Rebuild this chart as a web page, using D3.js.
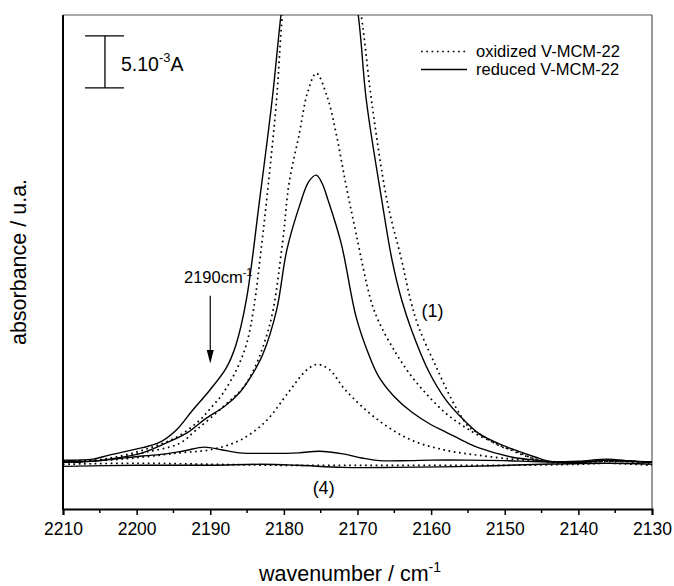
<!DOCTYPE html>
<html>
<head>
<meta charset="utf-8">
<script src="https://cdn.jsdelivr.net/npm/d3@7"></script>
<style>
  body { margin: 0; background: #fff; }
  text { font-family: "Liberation Sans", Arial, sans-serif; fill: #000; }
</style>
</head>
<body>
<svg id="chart" width="674" height="586"></svg>
<script>
// x ticks (cm-1)
const majorTicks = [2210, 2200, 2190, 2180, 2170, 2160, 2150, 2140, 2130];
const minorTicks = [2205, 2195, 2185, 2175, 2165, 2155, 2145, 2135];

// spectra, [wavenumber, absorbance in 1e-3 A]
const oxidized1 = [[2210,0.0],[2208,0.0],[2203.6,0.4],[2199.2,1.15],[2194.6,2.4],[2191.5,4.0],[2189.7,5.4],[2188.3,6.6],[2186.5,8.8],[2185.1,11.3],[2184.1,14.8],[2183.1,20.4],[2182,27.5],[2181,34.8],[2180.2,43],[2178.2,56],[2175.4,63],[2172.6,56],[2169.5,43],[2168.1,34.8],[2166,25.2],[2164,19.4],[2162.8,15.6],[2161.7,13.0],[2159.4,9.3],[2157.2,6.0],[2155.9,4.4],[2154.9,3.4],[2153.6,2.8],[2150.5,1.5],[2149,1.2],[2145.9,0.3],[2144,0],[2140,-0.1],[2136,0.1],[2130,-0.1]];
const oxidized2 = [[2210,0.1],[2208,0.1],[2203.6,0.3],[2199.2,0.9],[2194.2,1.8],[2191.9,3.1],[2188.3,5.3],[2185.1,7.6],[2182,13.0],[2180.2,21.0],[2179.3,26.8],[2177.9,31.6],[2176.8,35.5],[2175.6,37.4],[2174.1,35.1],[2172.9,31.6],[2171.6,26.8],[2170.2,22.0],[2168.2,15.6],[2167.1,13.5],[2164.8,10.5],[2162.6,8.2],[2160.3,6.3],[2158,4.7],[2155.9,3.6],[2153.6,2.6],[2149.1,1.15],[2146.8,0.5],[2144.5,0.1],[2143,0],[2136,0.1],[2130,0]];
const oxidized3 = [[2210,0.1],[2204,0.2],[2199,0.5],[2194.2,0.9],[2190,1.2],[2186,2.1],[2182.5,3.9],[2179.3,6.8],[2177,8.8],[2175.5,9.4],[2173.8,8.9],[2171.6,6.9],[2167.1,4.0],[2162.6,2.1],[2158,1.15],[2153.6,0.67],[2149,0.3],[2145,0.1],[2140,0],[2136,0.1],[2130,0]];
const oxidized4 = [[2210,-0.2],[2200,-0.1],[2190,-0.2],[2180,-0.3],[2170,-0.3],[2160,-0.3],[2150,-0.3],[2140,-0.2],[2136,-0.1],[2130,-0.3]];

const reduced1 = [[2210,0.2],[2208,0.2],[2205.9,0.3],[2203.6,0.7],[2199.2,1.4],[2196.9,1.9],[2194.6,3.1],[2192.4,5.0],[2190.1,6.9],[2187.8,9.1],[2186.5,11.3],[2185.1,15.6],[2183.3,25.2],[2181.6,34.8],[2180.4,43],[2178.4,55],[2175.5,62],[2172.6,55],[2169.9,43],[2168.8,34.8],[2166.7,25.2],[2165.3,19.4],[2164,15.6],[2162.6,12.6],[2160.3,8.7],[2158,6.0],[2155.9,4.3],[2153.6,2.8],[2151.5,2.0],[2149.1,1.3],[2145.9,0.5],[2144,0.1],[2140,0],[2136,0.2],[2133,0.1],[2130,0]];
const reduced2 = [[2210,0.0],[2208,0.0],[2203.6,0.3],[2199.2,0.9],[2195.5,2.0],[2193,2.9],[2190.8,4.1],[2188,5.4],[2186,6.7],[2184.5,8.2],[2182.9,10.3],[2181,14.6],[2179.6,20.4],[2177.9,24.6],[2176.6,27.0],[2175.6,27.6],[2174.8,26.8],[2174,25.2],[2172.2,21.0],[2170.2,14.0],[2168.5,10.4],[2167.1,8.2],[2165,6.3],[2162.6,4.8],[2160,3.6],[2158,2.9],[2155.5,2.0],[2153.6,1.4],[2149.1,0.5],[2145.9,0.2],[2144,0.05],[2140,0],[2136,0.2],[2130,0]];
const reduced3 = [[2210,0.1],[2206,0.1],[2199.2,0.6],[2196,0.8],[2193.5,1.1],[2190.8,1.45],[2188.5,1.2],[2186,0.9],[2182,0.85],[2178,0.9],[2175.2,1.05],[2172,0.8],[2169.4,0.4],[2167,0.15],[2163,0.15],[2160,0.2],[2155,0.2],[2150,0.15],[2145,0.05],[2140,0.1],[2136,0.3],[2133,0.1],[2130,0]];
const reduced4 = [[2210,-0.4],[2200,-0.3],[2190,-0.3],[2183,-0.2],[2178,-0.3],[2172,-0.5],[2165,-0.5],[2155,-0.4],[2145,-0.2],[2136,-0.1],[2130,-0.2]];

const svg = d3.select("#chart");
const margin = { top: 15, right: 22, bottom: 77, left: 63 };
const width = +svg.attr("width");
const height = +svg.attr("height");
const plotW = width - margin.left - margin.right;
const plotH = height - margin.top - margin.bottom;

const x = d3.scaleLinear().domain([2210, 2130]).range([margin.left, margin.left + plotW]);
const y = d3.scaleLinear().domain([-4.5, 43]).range([margin.top + plotH, margin.top]);

svg.append("clipPath").attr("id", "clip")
  .append("rect")
  .attr("x", margin.left).attr("y", margin.top)
  .attr("width", plotW).attr("height", plotH);

// frame: top and right in gray
svg.append("line")
  .attr("x1", margin.left).attr("x2", margin.left + plotW)
  .attr("y1", margin.top).attr("y2", margin.top)
  .attr("stroke", "#555").attr("stroke-width", 1.2);
svg.append("line")
  .attr("x1", margin.left + plotW).attr("x2", margin.left + plotW)
  .attr("y1", margin.top).attr("y2", margin.top + plotH)
  .attr("stroke", "#555").attr("stroke-width", 1.2);

const line = d3.line()
  .x(d => x(d[0]))
  .y(d => y(d[1]))
  .curve(d3.curveCatmullRom.alpha(0.5));

const curves = svg.append("g").attr("clip-path", "url(#clip)");

[oxidized1, oxidized2, oxidized3, oxidized4].forEach(s => {
  curves.append("path")
    .datum(s)
    .attr("d", line)
    .attr("fill", "none")
    .attr("stroke", "#000")
    .attr("stroke-width", 1.7)
    .attr("stroke-dasharray", "1.7,3.6");
});
[reduced1, reduced2, reduced3, reduced4].forEach(s => {
  curves.append("path")
    .datum(s)
    .attr("d", line)
    .attr("fill", "none")
    .attr("stroke", "#000")
    .attr("stroke-width", 1.4);
});

// bottom axis
const xAxis = d3.axisBottom(x).tickValues(majorTicks).tickSize(6).tickFormat(d3.format("d"));
const gx = svg.append("g")
  .attr("transform", "translate(0," + (margin.top + plotH) + ")")
  .call(xAxis);
gx.select(".domain").attr("stroke-width", 2);
gx.selectAll(".tick line").attr("stroke-width", 1.5);
gx.selectAll(".tick text")
  .attr("dy", "0.95em")
  .style("font-size", "17.5px")
  .style("font-family", "Liberation Sans, Arial, sans-serif");

gx.selectAll(".minor").data(minorTicks).enter()
  .append("line")
  .attr("class", "minor")
  .attr("x1", d => x(d)).attr("x2", d => x(d))
  .attr("y1", 0).attr("y2", 4)
  .attr("stroke", "#000").attr("stroke-width", 1.5);

// left axis line only
svg.append("line")
  .attr("x1", margin.left).attr("x2", margin.left)
  .attr("y1", margin.top).attr("y2", margin.top + plotH + 1)
  .attr("stroke", "#000").attr("stroke-width", 2);

// axis titles
const xt = svg.append("text")
  .attr("x", 350).attr("y", 581)
  .attr("text-anchor", "middle")
  .style("font-size", "21.5px");
xt.append("tspan").text("wavenumber / cm");
xt.append("tspan").attr("dy", -9).style("font-size", "14px").text("-1");

svg.append("text")
  .attr("transform", "translate(26," + (margin.top + 247) + ") rotate(-90)")
  .attr("text-anchor", "middle")
  .style("font-size", "21.5px")
  .text("absorbance / u.a.");

// scale bar 5.10-3 A
const barX = x(2204.3);
const barTop = y(41), barBot = y(36);
svg.append("line").attr("x1", barX).attr("x2", barX).attr("y1", barTop).attr("y2", barBot)
  .attr("stroke", "#000").attr("stroke-width", 1.3);
[barTop, barBot].forEach(v => {
  svg.append("line").attr("x1", barX - 20).attr("x2", barX + 19).attr("y1", v).attr("y2", v)
    .attr("stroke", "#000").attr("stroke-width", 1.3);
});
const bt = svg.append("text").attr("x", barX + 16).attr("y", 71).style("font-size", "19.5px");
bt.append("tspan").text("5.10");
bt.append("tspan").attr("dy", -9).style("font-size", "13px").text("-3");
bt.append("tspan").attr("dy", 9).text("A");

// legend
svg.append("line").attr("x1", 421).attr("x2", 467).attr("y1", 51.5).attr("y2", 51.5)
  .attr("stroke", "#000").attr("stroke-width", 1.7).attr("stroke-dasharray", "1.7,3.6");
svg.append("text").attr("x", 476).attr("y", 57).style("font-size", "16.5px").text("oxidized V-MCM-22");
svg.append("line").attr("x1", 421).attr("x2", 467).attr("y1", 69.5).attr("y2", 69.5)
  .attr("stroke", "#000").attr("stroke-width", 1.4);
svg.append("text").attr("x", 476).attr("y", 75).style("font-size", "16.5px").text("reduced V-MCM-22");

// annotations
svg.append("text").attr("x", x(2159.8)).attr("y", 317).attr("text-anchor", "middle")
  .style("font-size", "18px").text("(1)");
svg.append("text").attr("x", x(2174.6)).attr("y", 494).attr("text-anchor", "middle")
  .style("font-size", "18px").text("(4)");

const at = svg.append("text").attr("x", 184).attr("y", 283).style("font-size", "16.5px");
at.append("tspan").text("2190cm");
at.append("tspan").attr("dy", -7).style("font-size", "11px").text("-1");

const ax = x(2190);
svg.append("line").attr("x1", ax).attr("x2", ax).attr("y1", y(16)).attr("y2", y(10.2))
  .attr("stroke", "#000").attr("stroke-width", 1.2);
svg.append("path")
  .attr("d", "M" + (ax - 3.5) + "," + (y(10.8)) + " L" + ax + "," + y(9.5) + " L" + (ax + 3.5) + "," + y(10.8) + " Z")
  .attr("fill", "#000");
</script>
</body>
</html>
